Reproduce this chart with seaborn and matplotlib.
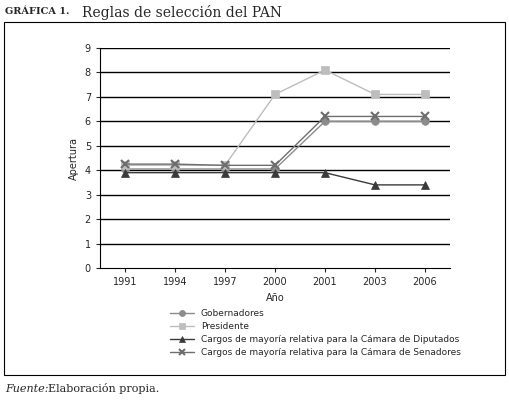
import matplotlib
matplotlib.use('Agg')
import matplotlib.pyplot as plt
import seaborn as sns
import pandas as pd
from matplotlib.patches import Rectangle

sns.set_style('white')

years = ['1991', '1994', '1997', '2000', '2001', '2003', '2006']
gobernadores = [4.05, 4.05, 4.05, 4.05, 6.0, 6.0, 6.0]
presidente = [4.2, 4.2, 4.2, 7.1, 8.1, 7.1, 7.1]
diputados = [3.9, 3.9, 3.9, 3.9, 3.9, 3.4, 3.4]
senadores = [4.25, 4.25, 4.2, 4.2, 6.2, 6.2, 6.2]

series = [
    ('Gobernadores', gobernadores, '#8c8c8c', 'o'),
    ('Presidente', presidente, '#bdbdbd', 's'),
    ('Cargos de mayoría relativa para la Cámara de Diputados', diputados, '#3a3a3a', '^'),
    ('Cargos de mayoría relativa para la Cámara de Senadores', senadores, '#6e6e6e', 'x'),
]

fig = plt.figure(figsize=(5.10, 4.01), dpi=100)
ax = fig.add_axes([100/510, 1-268/401, 350/510, 220/401])
x = list(range(len(years)))
for name, vals, col, mk in series:
    df = pd.DataFrame({'x': x, 'y': vals})
    sns.lineplot(data=df, x='x', y='y', ax=ax, color=col, marker=mk, markersize=5.5,
                 markeredgecolor=col, markeredgewidth=1.5 if mk == 'x' else 0.5,
                 linewidth=1.0, label=name)

ax.set_xlim(-0.5, len(years) - 0.5)
ax.set_ylim(0, 9)
ax.set_yticks(range(10))
ax.set_xticks(x)
ax.set_xticklabels(years)
ax.tick_params(labelsize=7, length=3, direction='out', left=True, bottom=True)
for y in range(1, 10):
    ax.axhline(y, color='black', linewidth=1, zorder=0)
for s in ['top', 'right']:
    ax.spines[s].set_visible(False)
ax.spines['left'].set_color('black')
ax.spines['bottom'].set_color('black')
ax.set_xlabel('Año', fontsize=7)
ax.set_ylabel('Apertura', fontsize=7)

ax.legend(loc='upper left', bbox_to_anchor=(62/350, -0.15), frameon=False,
          fontsize=6.5, handlelength=2.6, labelspacing=0.45, markerscale=0.8)

fig.patches.append(Rectangle((4/510, 1-375/401), 501/510, 353/401, transform=fig.transFigure,
                             fill=False, edgecolor='black', linewidth=0.8))
fig.text(5/510, 1-12/401, 'GRÁFICA 1.', fontsize=7, fontweight='bold', family='DejaVu Serif', va='center')
fig.text(82/510, 1-12/401, 'Reglas de selección del PAN', fontsize=10, family='DejaVu Serif', va='center')
fig.text(5/510, 1-389/401, 'Fuente:', fontsize=8, style='italic', family='DejaVu Serif', va='center')
fig.text(48/510, 1-389/401, 'Elaboración propia.', fontsize=8, family='DejaVu Serif', va='center')

fig.savefig('out.png', dpi=100)
